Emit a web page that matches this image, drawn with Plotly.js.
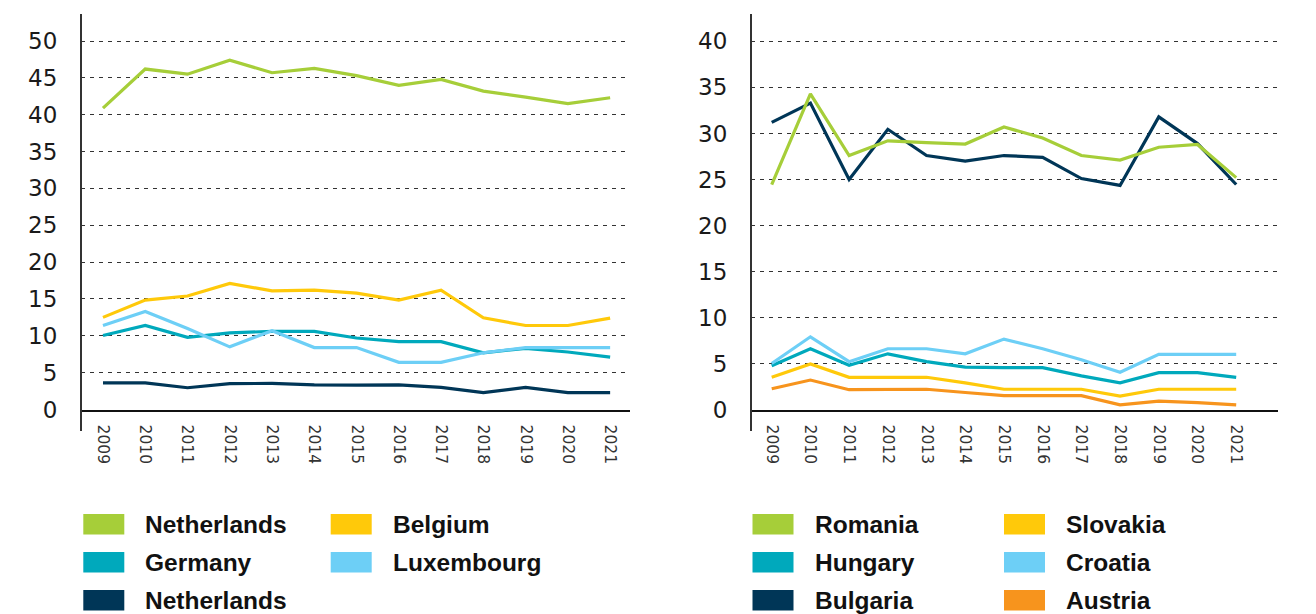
<!DOCTYPE html>
<html>
<head>
<meta charset="utf-8">
<script src="https://cdn.plot.ly/plotly-3.0.1.min.js"></script>
<style>html,body{margin:0;padding:0;background:#fff;}#chart{width:1316px;height:614px;}</style>
</head>
<body>
<div id="chart"></div>
<script>
var years = ['2009','2010','2011','2012','2013','2014','2015','2016','2017','2018','2019','2020','2021'];

// Left panel series
var netherlandsGreen = [40.9, 46.2, 45.5, 47.4, 45.7, 46.3, 45.3, 44.0, 44.8, 43.2, 42.4, 41.5, 42.3];
var belgium          = [12.5, 14.85, 15.4, 17.1, 16.1, 16.2, 15.8, 14.85, 16.2, 12.45, 11.4, 11.4, 12.4];
var luxembourg       = [11.4, 13.3, 11.0, 8.5, 10.7, 8.4, 8.4, 6.4, 6.4, 7.7, 8.4, 8.4, 8.4];
var germany          = [10.05, 11.4, 9.8, 10.4, 10.6, 10.6, 9.7, 9.2, 9.2, 7.7, 8.3, 7.8, 7.1];
var netherlandsDark  = [3.6, 3.6, 2.95, 3.5, 3.55, 3.35, 3.3, 3.35, 3.0, 2.3, 3.0, 2.3, 2.3];

// Right panel series
var romania  = [24.45, 34.3, 27.6, 29.2, 29.0, 28.85, 30.7, 29.5, 27.6, 27.1, 28.5, 28.8, 25.2];
var bulgaria = [31.2, 33.3, 25.0, 30.45, 27.6, 27.0, 27.6, 27.4, 25.1, 24.35, 31.8, 28.9, 24.45];
var croatia  = [5.0, 7.9, 5.2, 6.6, 6.6, 6.05, 7.65, 6.6, 5.4, 4.05, 6.0, 6.0, 6.0];
var hungary  = [4.75, 6.6, 4.8, 6.05, 5.2, 4.6, 4.55, 4.55, 3.65, 2.9, 4.0, 4.0, 3.5];
var slovakia = [3.5, 4.95, 3.5, 3.5, 3.5, 2.9, 2.2, 2.2, 2.2, 1.45, 2.2, 2.2, 2.2];
var austria  = [2.25, 3.2, 2.15, 2.15, 2.2, 1.85, 1.5, 1.5, 1.5, 0.5, 0.9, 0.75, 0.5];

var leftTicks = [0,5,10,15,20,25,30,35,40,45,50];
var rightTicks = [0,5,10,15,20,25,30,35,40];

var C = {green:'#a6ce39', yellow:'#ffc90a', teal:'#00a9bc', light:'#6dcff6', navy:'#003657', orange:'#f7941d'};

var W = 1316, H = 614;
function px(x){return x/W;}
function py(y){return (H-y)/H;}

function tr(y, name, color, xa, ya){
  return {x: years, y: y, name: name, type:'scatter', mode:'lines',
    line:{color:color, width:3.2}, xaxis:xa, yaxis:ya, showlegend:false, hoverinfo:'x+y+name'};
}

var data = [
  tr(netherlandsDark,'Netherlands',C.navy,'x','y'),
  tr(germany,'Germany',C.teal,'x','y'),
  tr(luxembourg,'Luxembourg',C.light,'x','y'),
  tr(belgium,'Belgium',C.yellow,'x','y'),
  tr(netherlandsGreen,'Netherlands',C.green,'x','y'),
  tr(austria,'Austria',C.orange,'x2','y2'),
  tr(slovakia,'Slovakia',C.yellow,'x2','y2'),
  tr(hungary,'Hungary',C.teal,'x2','y2'),
  tr(croatia,'Croatia',C.light,'x2','y2'),
  tr(bulgaria,'Bulgaria',C.navy,'x2','y2'),
  tr(romania,'Romania',C.green,'x2','y2')
];

var tickFont = {family:'DejaVu Sans', size:15.5, color:'#333'};
var yFont = {family:'DejaVu Sans', size:23, color:'#1a1a1a'};

function xax(domain, range){
  return {type:'category', domain:domain, range:range, showgrid:false, zeroline:false,
    showline:true, linecolor:'#111', linewidth:2, ticks:'outside', ticklen:10,
    tickcolor:'rgba(0,0,0,0)', tickangle:90, tickfont:tickFont, fixedrange:true};
}
function yax(range, ticks, anchor){
  return {domain:[py(409.5), py(14)], range:range, tickvals:ticks, ticktext:ticks.map(String),
    showgrid:true, gridcolor:'#333', gridwidth:1, griddash:'4px,5px', zeroline:false,
    showline:false, ticks:'outside', ticklen:18, tickcolor:'rgba(0,0,0,0)', tickfont:yFont,
    anchor:anchor, fixedrange:true};
}

var shapes = [
  {type:'line', xref:'paper', yref:'paper', x0:px(81), x1:px(81), y0:py(431), y1:py(14), line:{color:'#333', width:2}},
  {type:'line', xref:'paper', yref:'paper', x0:px(751), x1:px(751), y0:py(431), y1:py(14), line:{color:'#333', width:2}}
];
var annotations = [];

function legendItem(x, textX, yc, color, label){
  shapes.push({type:'rect', xref:'paper', yref:'paper', x0:px(x), x1:px(x+41), y0:py(yc+10.3), y1:py(yc-10.3),
    fillcolor:color, line:{width:0}});
  annotations.push({xref:'paper', yref:'paper', x:px(textX), y:py(yc), xanchor:'left', yanchor:'middle',
    text:label, showarrow:false, font:{family:'Liberation Sans', size:24.5, color:'#111', weight:'bold'}});
}
var rows = [524.3, 562.3, 600.3];
legendItem(83.3, 143, rows[0], C.green, 'Netherlands');
legendItem(83.3, 143, rows[1], C.teal, 'Germany');
legendItem(83.3, 143, rows[2], C.navy, 'Netherlands');
legendItem(330.7, 391, rows[0], C.yellow, 'Belgium');
legendItem(330.7, 391, rows[1], C.light, 'Luxembourg');
legendItem(752.5, 813, rows[0], C.green, 'Romania');
legendItem(752.5, 813, rows[1], C.teal, 'Hungary');
legendItem(752.5, 813, rows[2], C.navy, 'Bulgaria');
legendItem(1004, 1064, rows[0], C.yellow, 'Slovakia');
legendItem(1004, 1064, rows[1], C.light, 'Croatia');
legendItem(1004, 1064, rows[2], C.orange, 'Austria');

var layout = {
  width:W, height:H, margin:{l:0,r:0,t:0,b:0}, paper_bgcolor:'#fff', plot_bgcolor:'rgba(0,0,0,0)',
  showlegend:false,
  xaxis: xax([px(81), px(630)], [-0.52, 12.47]),
  yaxis: yax([0, 53.67], leftTicks, 'x'),
  xaxis2: xax([px(751), px(1278)], [-0.535, 13.08]),
  yaxis2: yax([0, 42.98], rightTicks, 'x2'),
  shapes: shapes,
  annotations: annotations
};
layout.xaxis.anchor = 'y';
layout.xaxis2.anchor = 'y2';

Plotly.newPlot('chart', data, layout, {displayModeBar:false, staticPlot:true});
</script>
</body>
</html>
